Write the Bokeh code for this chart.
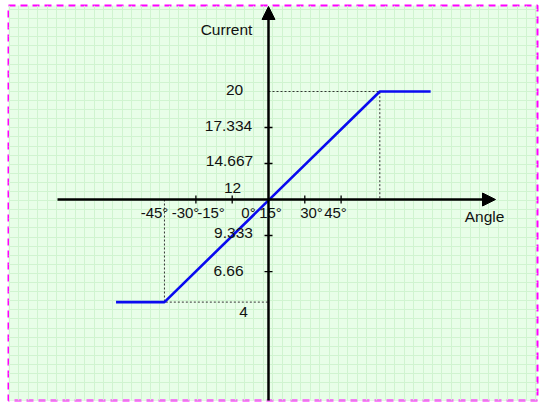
import numpy as np
from bokeh.plotting import figure
from bokeh.models import Range1d, Grid, FixedTicker, Arrow, NormalHead
from bokeh.core.properties import value
from bokeh.embed import file_html
from bokeh.resources import INLINE

# ---- data ----
angle_pts = [-63, -43, 46, 67]        # degrees
current_pts = [4.4, 4.4, 20, 20]      # current
x_ticks = [-30, -15, 15, 30]
y_ticks = [6.66, 9.333, 14.667, 17.334]
x_tick_labels = ["-45°", "-30°", "-15°", "0°", "15°", "30°", "45°"]
y_tick_labels = ["20", "17.334", "14.667", "12", "9.333", "6.66", "4"]
axis_current = 12

# ---- layout (page pixels) ----
W, H = 539, 403
FL, FR, FT, FB = 8, 537, 5, 400   # frame edges in page pixels
X0, Y0 = 268, 199
SX = 36.3 / 15
SY = 13.5

def dx(px):
    return (px - X0) / SX

def dy(py):
    return axis_current + (Y0 - py) / SY

x_lab_px = [154, 185, 210.5, 248, 270, 311, 335]
x_lab_py = 212
y_lab_px = [234, 228, 229, 232, 233, 228, 243]
y_lab_py = [89.5, 125, 160, 187, 232.5, 270, 311.5]

p = figure(width=W, height=H, output_backend="svg", toolbar_location=None,
           x_axis_type=None, y_axis_type=None,
           x_range=Range1d(dx(FL), dx(FR)),
           y_range=Range1d(dy(FB), dy(FT)),
           min_border_left=FL, min_border_right=W - FR,
           min_border_top=FT, min_border_bottom=H - FB)
p.background_fill_color = "#e8fee8"
p.border_fill_color = "white"
p.outline_line_color = "#ff00ff"
p.outline_line_width = 2
p.outline_line_dash = "7 5"

gx = [dx(v) for v in np.arange(9, 540, 9.4)]
gy = [dy(v) for v in np.arange(9, 405, 9.1)]
p.add_layout(Grid(dimension=0, ticker=FixedTicker(ticks=gx),
                  grid_line_color="#d0f4d0", grid_line_width=1))
p.add_layout(Grid(dimension=1, ticker=FixedTicker(ticks=gy),
                  grid_line_color="#d0f4d0", grid_line_width=1))

# guide dotted lines
p.line([angle_pts[1], angle_pts[1], 0], [axis_current, current_pts[1], current_pts[1]],
       line_color="#333333", line_width=1, line_dash="2 2")
p.line([0, angle_pts[2], angle_pts[2]], [current_pts[2], current_pts[2], axis_current],
       line_color="#333333", line_width=1, line_dash="2 2")

# axes with arrows
p.add_layout(Arrow(end=NormalHead(size=13, fill_color="black", line_color="black"),
                   x_start=dx(57), y_start=axis_current, x_end=dx(495), y_end=axis_current,
                   line_color="black", line_width=2.5))
p.add_layout(Arrow(end=NormalHead(size=13, fill_color="black", line_color="black"),
                   x_start=0, y_start=dy(405), x_end=0, y_end=dy(6),
                   line_color="black", line_width=2.5))

# ticks
p.scatter(x=x_ticks, y=[axis_current] * len(x_ticks), marker="dash", angle=np.pi / 2,
          size=8, line_color="black", line_width=1.3)
p.scatter(x=[0] * len(y_ticks), y=y_ticks, marker="dash", size=8,
          line_color="black", line_width=1.3)

# characteristic
p.line(angle_pts, current_pts, line_color="#0a0af0", line_width=2.6)

font = value("Liberation Sans")
p.text(x=[dx(v) for v in x_lab_px], y=[dy(x_lab_py)] * len(x_lab_px), text=x_tick_labels,
       text_align="center", text_baseline="middle", text_font=font,
       text_font_size="15px", text_color="#111111")
p.text(x=[dx(v) for v in y_lab_px], y=[dy(v) for v in y_lab_py], text=y_tick_labels,
       text_align="center", text_baseline="middle", text_font=font,
       text_font_size="15.5px", text_color="#111111")
p.text(x=[dx(226)], y=[dy(29)], text=["Current"], text_align="center",
       text_baseline="middle", text_font=font, text_font_size="15.5px", text_color="#111111")
p.text(x=[dx(484)], y=[dy(216)], text=["Angle"], text_align="center",
       text_baseline="middle", text_font=font, text_font_size="15.5px", text_color="#111111")

open("out.html", "w").write(file_html(p, INLINE))
